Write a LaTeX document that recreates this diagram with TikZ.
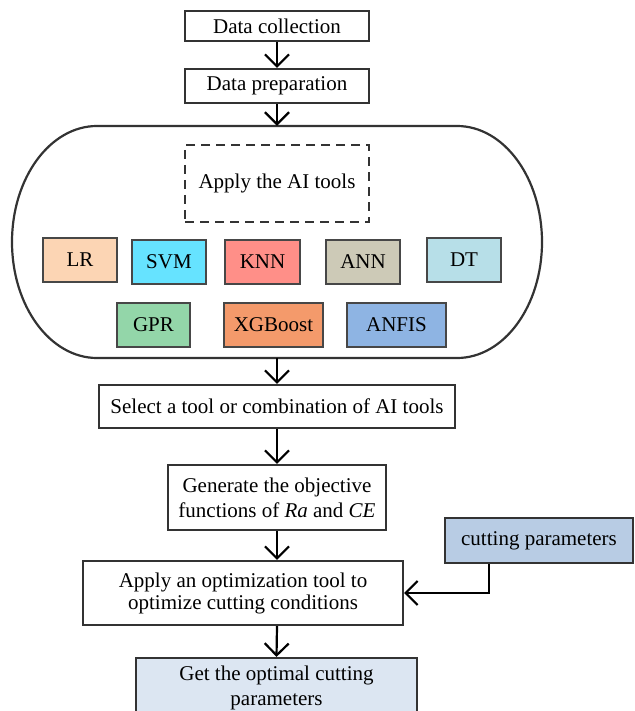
\documentclass[tikz,border=0pt]{standalone}
\usepackage{fontspec}
\setmainfont{Liberation Serif}
\usetikzlibrary{arrows.meta}
\definecolor{edge}{HTML}{333333}
\definecolor{cLR}{HTML}{FCD5B4}
\definecolor{cSVM}{HTML}{66E3FF}
\definecolor{cKNN}{HTML}{FF8F88}
\definecolor{cANN}{HTML}{CDCAB7}
\definecolor{cDT}{HTML}{B7DFE8}
\definecolor{cGPR}{HTML}{93D6A9}
\definecolor{cXGB}{HTML}{F49A6B}
\definecolor{cANFIS}{HTML}{8EB4E3}
\definecolor{cCut}{HTML}{B8CCE4}
\definecolor{cGet}{HTML}{DCE6F2}
\tikzset{
  mainbox/.style={draw=edge, line width=2.2pt, fill=white, inner sep=0pt, align=center},
  toolbox/.style={draw=edge!90, line width=1.5pt, inner sep=0pt, minimum height=44pt},
  flow/.style={draw=black, line width=2.2pt, -{Straight Barb[length=12pt,width=24pt,line width=2.2pt]}},
}
\begin{document}
\begin{tikzpicture}[x=1pt, y=-1pt, font=\fontsize{21}{25}\selectfont]
\useasboundingbox (0,0) rectangle (634,711);

% main column
\node[mainbox, minimum width=184pt, minimum height=30pt] (collect) at (277,26) {Data collection};
\node[mainbox, minimum width=184pt, minimum height=34pt] (prep) at (277,86) {Data preparation};

% container for the AI tools: a rectangle with half-elliptical ends
\node[inner sep=0pt, minimum width=530pt, minimum height=232pt] (pool) at (277,242) {};
\draw[edge, line width=2.2pt]
  (97,126) -- (457,126)
  .. controls (504,126) and (542,178) .. (542,242)
  .. controls (542,306) and (504,358) .. (457,358) -- (97,358)
  .. controls (50,358) and (12,306) .. (12,242)
  .. controls (12,178) and (50,126) .. (97,126) -- cycle;

\node[draw=edge, line width=1.5pt, dash pattern=on 9pt off 6pt, inner sep=0pt,
      minimum width=184pt, minimum height=77pt] (apply) at (277,183.5) {Apply the AI tools};

\node[toolbox, fill=cLR,  minimum width=74pt] (lr)  at (80,260)  {LR};
\node[toolbox, fill=cSVM, minimum width=74pt] (svm) at (169,262) {SVM};
\node[toolbox, fill=cKNN, minimum width=75pt] (knn) at (262.5,262) {KNN};
\node[toolbox, fill=cANN, minimum width=74pt] (ann) at (363,262) {ANN};
\node[toolbox, fill=cDT,  minimum width=74pt] (dt)  at (464,260) {DT};
\node[toolbox, fill=cGPR, minimum width=73pt] (gpr) at (153.5,325) {GPR};
\node[toolbox, fill=cXGB, minimum width=99pt] (xgb) at (273.5,325) {XGBoost};
\node[toolbox, fill=cANFIS, minimum width=99pt] (anfis) at (396.5,325) {ANFIS};

\node[mainbox, minimum width=356pt, minimum height=43pt] (select) at (277,406.5) {Select a tool or combination of AI tools};
\node[mainbox, minimum width=218pt, minimum height=65pt] (gen) at (277,497.5)
  {Generate the objective\\functions of \textit{Ra} and \textit{CE}};
\node[mainbox, minimum width=320pt, minimum height=64pt] (opt) at (243,593)
  {\raisebox{-3pt}{\begin{tabular}{@{}c@{}}Apply an optimization tool to\\[-3pt]optimize cutting conditions\end{tabular}}};
\node[mainbox, fill=cCut, minimum width=188pt, minimum height=45pt] (cut) at (539,540.5) {cutting parameters};
\node[mainbox, fill=cGet, minimum width=281pt, minimum height=60pt] (get) at (276.5,688)
  {Get the optimal cutting\\parameters};

% connectors
\draw[flow] (collect.south) -- (prep.north);
\draw[flow] (prep.south) -- (pool.north);
\draw[flow] (pool.south) -- (select.north);
\draw[flow] (select.south) -- (gen.north);
\draw[flow] (gen.south) -- (gen.south |- opt.north);
\draw[flow] (gen.south |- opt.south) -- (get.north);
\coordinate (bend) at (489,593);
\draw[flow] (cut.south -| bend) -- (bend) -- (opt.east);
\end{tikzpicture}
\end{document}
